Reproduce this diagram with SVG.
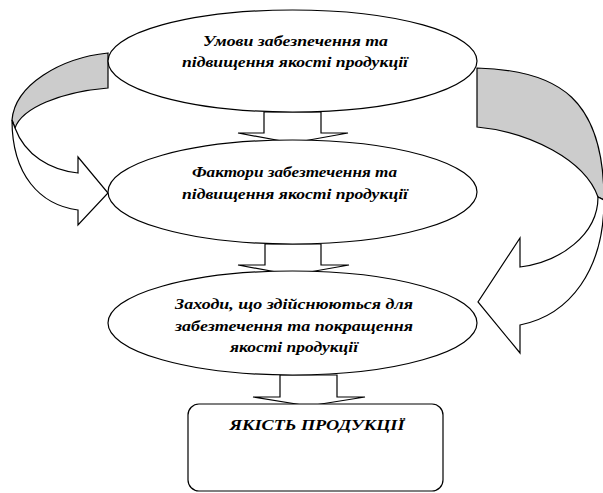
<svg xmlns="http://www.w3.org/2000/svg" width="603" height="493" viewBox="0 0 603 493">
<style>
.ln{fill:none;stroke:#000;stroke-width:1.2}
.wf{fill:#fff;stroke:#000;stroke-width:1.2}
.gf{fill:#cccccc;stroke:#000;stroke-width:1.2}
.t{font-family:"Liberation Serif","DejaVu Serif",serif;font-weight:bold;font-style:italic;font-size:15px;text-anchor:middle;fill:#000}
</style>
<rect width="603" height="493" fill="#fff"/>
<g id="connectors">
  <path class="wf" d="M264,112 L264,133 L238,133 L292.5,143 L348,133 L321,133 L321,112 Z"/>
  <path class="wf" d="M265,244 L265,265 L238,265 L292.5,275 L349,265 L321,265 L321,244 Z"/>
  <path class="wf" d="M280,375 L280,397 L253,397 L308.5,406 L365,397 L337,397 L337,375 Z"/>
  <g id="loop-left">
    <path class="gf" d="M108,53 C60,58 15,85 12,120 L15,128 C22,108 60,92 108,88 Z"/>
    <path class="wf" d="M12,120 C12,175 40,205 78,210 L78,225 L108,193 L78,157 L78,173 C50,170 25,155 15,128 Z"/>
  </g>
  <g id="loop-right">
    <path class="gf" d="M477,68 C560,70 604,100 604,200 L598,197 C585,160 530,132 477,127 Z"/>
    <path class="wf" d="M604,200 C604,270 570,315 520,325 L520,353 L478,302 L520,238 L520,267 C560,262 598,235 598,197 Z"/>
  </g>
</g>
<g id="node1">
  <ellipse class="wf" cx="292.5" cy="61" rx="184.5" ry="51"/>
  <text class="t" x="295.5" y="46" textLength="185" lengthAdjust="spacingAndGlyphs">Умови забезпечення та</text>
  <text class="t" x="295" y="67" textLength="226" lengthAdjust="spacingAndGlyphs">підвищення якості продукції</text>
</g>
<g id="node2">
  <ellipse class="wf" cx="292.5" cy="192" rx="184.5" ry="52"/>
  <text class="t" x="294.5" y="177" textLength="205" lengthAdjust="spacingAndGlyphs">Фактори забезтечення та</text>
  <text class="t" x="295" y="199" textLength="226" lengthAdjust="spacingAndGlyphs">підвищення якості продукції</text>
</g>
<g id="node3">
  <ellipse class="wf" cx="292.5" cy="323" rx="184.5" ry="52"/>
  <text class="t" x="294" y="309" textLength="238" lengthAdjust="spacingAndGlyphs">Заходи, що здійснюються для</text>
  <text class="t" x="294" y="331" textLength="238" lengthAdjust="spacingAndGlyphs">забезтечення та покращення</text>
  <text class="t" x="294" y="352" textLength="128" lengthAdjust="spacingAndGlyphs">якості продукції</text>
</g>
<g id="node4">
  <rect class="wf" x="188" y="404" width="255" height="87" rx="11"/>
  <text class="t" x="317" y="430" textLength="175" lengthAdjust="spacingAndGlyphs">ЯКІСТЬ ПРОДУКЦІЇ</text>
</g>
</svg>
